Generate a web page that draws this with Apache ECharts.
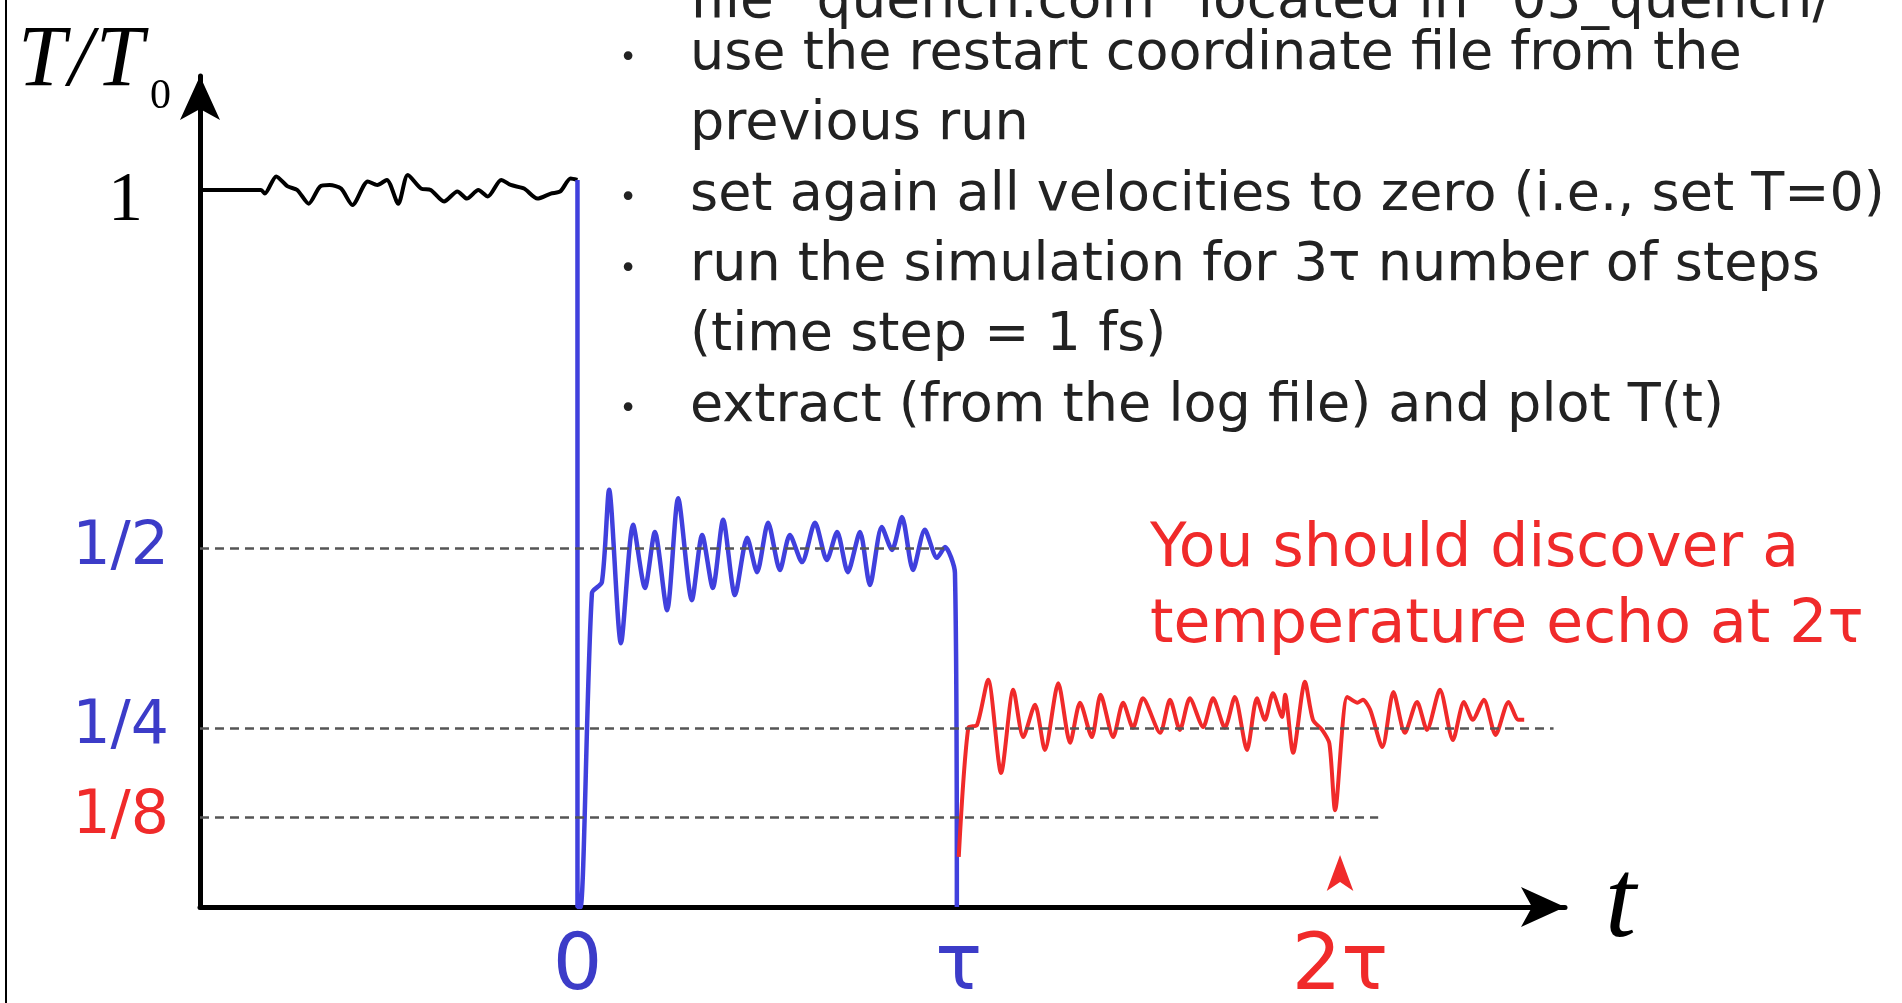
<!DOCTYPE html>
<html>
<head>
<meta charset="utf-8">
<title>Temperature echo</title>
<script src="https://cdn.jsdelivr.net/npm/echarts@6/dist/echarts.min.js"></script>
<style>
  html, body { margin: 0; padding: 0; background: #fff; }
  #main { width: 1902px; height: 1003px; }
</style>
</head>
<body>
<div id="main"></div>
<script>
// time in units of tau, temperature in units of T0
var blackData = [
  [-0.99, 1.0], [-0.83, 1.0], [-0.82, 0.995], [-0.79, 1.019], [-0.76, 1.005], [-0.735, 1.0],
  [-0.705, 0.981], [-0.675, 1.005], [-0.65, 1.007], [-0.62, 1.002], [-0.59, 0.979], [-0.55, 1.012],
  [-0.525, 1.007], [-0.5, 1.014], [-0.47, 0.981], [-0.445, 1.021], [-0.41, 1.002], [-0.385, 1.0],
  [-0.35, 0.984], [-0.315, 0.998], [-0.29, 0.988], [-0.26, 1.0], [-0.235, 0.991], [-0.2, 1.014],
  [-0.175, 1.007], [-0.14, 1.002], [-0.105, 0.988], [-0.07, 0.995], [-0.045, 0.998], [-0.018, 1.016],
  [0, 1.014]
];
var blueData = [
  [0, 1.014], [0, 0], [0.008, 0], [0.038, 0.438], [0.064, 0.453], [0.083, 0.582], [0.114, 0.368],
  [0.146, 0.533], [0.177, 0.445], [0.203, 0.523], [0.235, 0.414], [0.264, 0.570], [0.300, 0.428],
  [0.327, 0.519], [0.355, 0.445], [0.382, 0.540], [0.413, 0.435], [0.445, 0.515], [0.471, 0.467],
  [0.500, 0.536], [0.531, 0.470], [0.557, 0.519], [0.589, 0.481], [0.623, 0.536], [0.654, 0.484],
  [0.681, 0.523], [0.709, 0.467], [0.741, 0.523], [0.767, 0.449], [0.798, 0.530], [0.825, 0.498],
  [0.851, 0.544], [0.880, 0.470], [0.911, 0.526], [0.943, 0.487], [0.964, 0.502], [0.990, 0.466],
  [0.995, 0]
];
var redData = [
  [1.0, 0.07], [1.025, 0.25], [1.048, 0.254], [1.077, 0.317], [1.111, 0.187], [1.143, 0.303],
  [1.169, 0.237], [1.2, 0.282], [1.226, 0.219], [1.261, 0.312], [1.292, 0.229], [1.318, 0.285],
  [1.349, 0.237], [1.372, 0.296], [1.405, 0.237], [1.431, 0.285], [1.457, 0.25], [1.483, 0.291],
  [1.528, 0.243], [1.554, 0.289], [1.58, 0.247], [1.606, 0.291], [1.641, 0.251], [1.667, 0.291],
  [1.698, 0.25], [1.724, 0.293], [1.756, 0.219], [1.782, 0.291], [1.803, 0.261], [1.824, 0.298],
  [1.848, 0.265], [1.856, 0.296], [1.877, 0.215], [1.908, 0.314], [1.929, 0.261], [1.953, 0.247],
  [1.972, 0.228], [1.987, 0.135], [2.019, 0.293], [2.045, 0.285], [2.06, 0.289], [2.079, 0.275],
  [2.111, 0.223], [2.14, 0.3], [2.17, 0.243], [2.202, 0.286], [2.228, 0.247], [2.262, 0.303],
  [2.296, 0.233], [2.325, 0.286], [2.348, 0.261], [2.377, 0.289], [2.408, 0.24], [2.442, 0.286],
  [2.468, 0.261], [2.483, 0.261]
];

var yTicks = [0.125, 0.25, 0.5, 1];
var yTickText = ['{r|1/8}', '{b|1/4}', '{b|1/2}', '{k|1}'];
var xTicks = [0, 1, 2];
var xTickText = ['{b|0}', '{b|τ}', '{r|2τ}'];

// dashed reference levels: value and where they stop on the time axis
var guideLevels = [0.5, 0.25, 0.125];
var guideEnds = [0.97, 2.56, 2.10];
var echoMark = [2, 0.0725];

var topLine = 'file "quench.com" located in "03_quench/"';
var notes = [
  'use the restart coordinate file from the',
  'previous run',
  'set again all velocities to zero (i.e., set T=0)',
  'run the simulation for 3τ number of steps',
  '(time step = 1 fs)',
  'extract (from the log file) and plot T(t)'
];
var bulleted = [true, false, true, true, false, true];
var echoNote = ['You should discover a', 'temperature echo at 2τ'];

var BLUE = '#4040dd', BLUE_TXT = '#3c3cc8', RED = '#f02a2a';
var xMin = -0.99;

var chart = echarts.init(document.getElementById('main'));

var graphics = [
  { type: 'line', shape: { x1: 6, y1: 0, x2: 6, y2: 1003 }, style: { stroke: '#000', lineWidth: 2 } },
  {
    type: 'text', x: 18, y: 62,
    style: {
      text: '{i|T}{s|/}{i|T}', verticalAlign: 'middle', align: 'left',
      rich: {
        i: { fontFamily: 'Liberation Serif', fontStyle: 'italic', fontSize: 86, fill: '#000' },
        s: { fontFamily: 'Liberation Serif', fontStyle: 'italic', fontSize: 86, fill: '#000', padding: [0, 3, 0, 3] }
      }
    }
  },
  { type: 'text', x: 150, y: 97, style: { text: '0', fontFamily: 'Liberation Serif', fontSize: 42, fill: '#000', verticalAlign: 'middle' } },
  { type: 'text', x: 690, y: 3, style: { text: topLine, fontFamily: 'DejaVu Sans', fontSize: 55, fill: '#222', verticalAlign: 'middle' } }
];
notes.forEach(function (t, i) {
  var y = 55 + i * 70.3;
  graphics.push({ type: 'text', x: 690, y: y, style: { text: t, fontFamily: 'DejaVu Sans', fontSize: 54, fill: '#222', verticalAlign: 'middle' } });
  if (bulleted[i]) {
    graphics.push({ type: 'text', x: 628, y: y + 4, style: { text: '•', fontFamily: 'DejaVu Sans', fontSize: 30, fill: '#222', align: 'center', verticalAlign: 'middle' } });
  }
});
echoNote.forEach(function (t, i) {
  graphics.push({ type: 'text', x: 1150, y: 550 + i * 76, style: { text: t, fontFamily: 'DejaVu Sans', fontSize: 60, fill: RED, verticalAlign: 'middle' } });
});

var option = {
  animation: false,
  backgroundColor: '#fff',
  grid: { left: 200, top: 76, width: 1365, height: 831, outerBoundsMode: 'none' },
  xAxis: {
    type: 'value', min: xMin, max: 2.59,
    name: 't', nameLocation: 'end', nameGap: 40,
    nameTextStyle: { fontFamily: 'Liberation Serif', fontStyle: 'italic', fontSize: 112, color: '#000', verticalAlign: 'middle', padding: [0, 0, 54, 0] },
    axisLine: { onZero: false, lineStyle: { color: '#000', width: 5 }, symbol: ['none', 'arrow'], symbolSize: [30, 44], symbolOffset: [0, 0] },
    axisTick: { show: false },
    splitLine: { show: false },
    axisLabel: {
      customValues: xTicks, margin: 62, verticalAlign: 'middle',
      formatter: function (v) { return xTickText[xTicks.indexOf(v)]; },
      rich: {
        b: { color: BLUE_TXT, fontFamily: 'DejaVu Sans', fontSize: 78 },
        r: { color: RED, fontFamily: 'DejaVu Sans', fontSize: 78 }
      }
    }
  },
  yAxis: {
    type: 'value', min: 0, max: 1.159,
    axisLine: { show: true, onZero: false, lineStyle: { color: '#000', width: 5 }, symbol: ['none', 'arrow'], symbolSize: [30, 44], symbolOffset: [0, 0] },
    axisTick: { show: false },
    splitLine: { show: false },
    axisLabel: {
      customValues: yTicks, margin: 31,
      formatter: function (v) { return yTickText[yTicks.indexOf(v)]; },
      rich: {
        b: { color: BLUE_TXT, fontFamily: 'DejaVu Sans', fontSize: 60 },
        r: { color: RED, fontFamily: 'DejaVu Sans', fontSize: 60 },
        k: { color: '#000', fontFamily: 'Liberation Serif', fontSize: 70, padding: [24, 26, 0, 0] }
      }
    }
  },
  graphic: graphics,
  series: [
    {
      type: 'line', data: [], z: 1, silent: true,
      markLine: {
        silent: true, symbol: 'none', label: { show: false },
        lineStyle: { color: '#555', width: 2.5, type: [9, 6] },
        data: guideLevels.map(function (lv, i) {
          return [{ coord: [xMin, lv] }, { coord: [guideEnds[i], lv] }];
        })
      }
    },
    { type: 'line', data: blackData, z: 3, smooth: 0.25, showSymbol: false, lineStyle: { color: '#000', width: 4 } },
    { type: 'line', data: blueData, z: 3, smooth: 0.25, showSymbol: false, lineStyle: { color: BLUE, width: 4.5 } },
    {
      type: 'line', data: redData, z: 4, smooth: 0.25, showSymbol: false, lineStyle: { color: RED, width: 4 },
      markPoint: {
        silent: true, symbol: 'arrow', symbolSize: [20, 36], itemStyle: { color: RED }, label: { show: false },
        data: [{ coord: echoMark }]
      }
    }
  ]
};
chart.setOption(option);
</script>
</body>
</html>
